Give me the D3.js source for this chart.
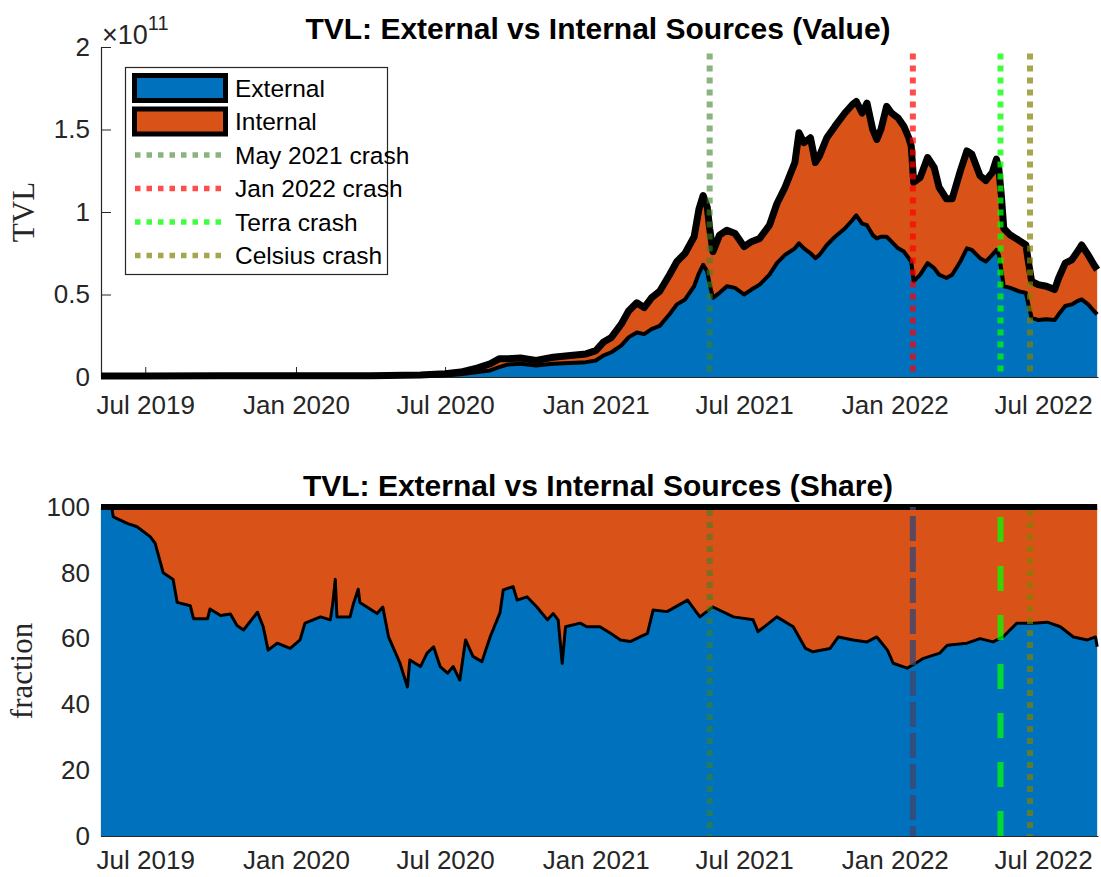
<!DOCTYPE html>
<html>
<head>
<meta charset="utf-8">
<script src="https://cdn.jsdelivr.net/npm/d3@7"></script>
<style>
  body { margin: 0; background: #fff; }
  svg { display: block; }
  text { font-family: "Liberation Sans", Arial, Helvetica, sans-serif; }
</style>
</head>
<body>
<div id="chart"></div>
<script>
// TVL in billions USD
var valueDates = ["2019-05-08","2019-07-01","2019-10-01","2020-01-01","2020-04-01","2020-06-01","2020-07-01","2020-07-20","2020-08-10","2020-08-25",
  "2020-09-05","2020-09-15","2020-10-01","2020-10-20","2020-11-10","2020-12-01","2020-12-20","2021-01-01","2021-01-10","2021-01-20",
  "2021-02-01","2021-02-10","2021-02-20","2021-03-01","2021-03-10","2021-03-20","2021-04-01","2021-04-10","2021-04-20","2021-05-01",
  "2021-05-07","2021-05-12","2021-05-17","2021-05-20","2021-05-24","2021-06-01","2021-06-10","2021-06-20","2021-07-01","2021-07-10",
  "2021-07-20","2021-08-01","2021-08-10","2021-08-20","2021-09-01","2021-09-06","2021-09-12","2021-09-20","2021-09-26","2021-10-01",
  "2021-10-10","2021-10-20","2021-11-01","2021-11-10","2021-11-15","2021-11-22","2021-11-28","2021-12-05","2021-12-10","2021-12-15",
  "2021-12-22","2021-12-28","2022-01-05","2022-01-12","2022-01-18","2022-01-21","2022-01-24","2022-02-01","2022-02-10","2022-02-18",
  "2022-02-24","2022-03-05","2022-03-12","2022-03-22","2022-03-30","2022-04-05","2022-04-15","2022-04-22","2022-04-30","2022-05-05",
  "2022-05-08","2022-05-11","2022-05-14","2022-05-22","2022-06-01","2022-06-10","2022-06-13","2022-06-17","2022-06-25","2022-07-05",
  "2022-07-15","2022-07-20","2022-07-28","2022-08-05","2022-08-12","2022-08-17","2022-08-25","2022-09-01","2022-09-05"];
var externalTVL = [0.6,0.57,0.5,0.53,0.45,0.7,1.1,1.6,3,4,
  6,7.5,8,7,8,8.5,9,10,13,15,
  19,24,27,26,29,31,38,44,47,55,
  63,68,64,56,48,51,55,54,50,53,
  56,62,69,74,78,81,78,75,72,74,
  80,85,90,95,98,93,92,86,84,85,
  85,82,78,76,72,70,58,62,69,66,
  62,60,62,70,78,77,72,70,74,77,
  74,65,55,54,52,51,44,36,34.5,35,
  34.5,38,43,44,46,47,44,40,38];
var internalTVL = [0,0.03,0.2,0.27,0.25,0.5,0.9,1.4,2.5,4,
  5,3.5,3.5,3,4,4.5,5,6,8,9,
  13,16,18,16,19,21,24,26,28,30,
  39,42,39,34,28,35,34,33,29,29,
  28,30,36,41,52,67,64,70,58,60,
  65,67,70,70,69,67,74,64,60,65,
  79,78,79,76,73,70,60,59,64,61,
  53,48,46,55,59,58,50,49,50,55,
  52,45,35,32,31,29,26,22,21.5,20,
  18.5,22,26,27,30,33,30,28,27];

// external share in percent
var shareDates = ["2019-05-08","2019-05-21","2019-05-23","2019-06-09","2019-06-21","2019-07-07","2019-07-13","2019-07-23","2019-08-04","2019-08-09",
  "2019-08-25","2019-08-29","2019-09-15","2019-09-18","2019-10-01","2019-10-13","2019-10-21","2019-10-29","2019-11-15","2019-11-22",
  "2019-11-28","2019-12-09","2019-12-25","2020-01-06","2020-01-12","2020-01-31","2020-02-12","2020-02-15","2020-02-18","2020-02-20",
  "2020-03-07","2020-03-11","2020-03-17","2020-03-19","2020-04-09","2020-04-16","2020-04-23","2020-05-07","2020-05-16","2020-05-19",
  "2020-06-01","2020-06-09","2020-06-17","2020-06-25","2020-07-04","2020-07-11","2020-07-19","2020-07-26","2020-08-04","2020-08-15",
  "2020-08-25","2020-09-06","2020-09-10","2020-09-22","2020-09-27","2020-10-09","2020-10-21","2020-11-03","2020-11-10","2020-11-16",
  "2020-11-21","2020-11-25","2020-12-13","2020-12-21","2021-01-06","2021-01-19","2021-01-31","2021-02-12","2021-03-05","2021-03-12",
  "2021-03-29","2021-04-23","2021-05-08","2021-05-24","2021-06-18","2021-07-12","2021-07-18","2021-08-10","2021-08-30","2021-09-14",
  "2021-09-23","2021-10-14","2021-10-24","2021-11-11","2021-11-28","2021-12-10","2021-12-23","2021-12-30","2022-01-16","2022-01-23",
  "2022-02-05","2022-02-25","2022-03-06","2022-03-30","2022-04-15","2022-05-01","2022-05-13","2022-05-30","2022-06-19","2022-07-06",
  "2022-07-22","2022-08-07","2022-08-24","2022-09-03","2022-09-05"];
var externalShare = [100,100,97,95,94,91,89,80,78,71,
  70,66,66,69,67,67.5,64,62.6,68,63.6,
  56.5,58.6,57,59.6,64.7,66.6,65.7,70.8,78,66.6,
  66.6,70.5,75,71,67.6,69.6,60.5,52.5,45.3,53.5,
  51.5,55.6,57.5,51.5,49.5,51.5,47.4,59.6,54.6,53,
  60.5,67.8,74.8,75.8,71.7,72.7,69.6,65.7,67.6,65.7,
  52.5,63.6,64.7,63.6,63.6,61.6,59.6,59.1,61.6,68.7,
  68.2,71.7,66.6,69.6,66.6,65.7,62.1,66.6,63.6,57,
  56,57,60.5,59.6,59,60.5,56.5,52.5,51,52,
  54,55.6,58,58.6,60,59,60.5,64.7,64.7,65,
  63.6,60.5,59.6,60.5,57.5];

var crashNames = ["May 2021 crash", "Jan 2022 crash", "Terra crash", "Celsius crash"];
var crashDates = ["2021-05-20", "2022-01-23", "2022-05-10", "2022-06-15"];
var seriesNames = ["External", "Internal"];
var dateTicks = ["2019-07-01","2020-01-01","2020-07-01","2021-01-01","2021-07-01","2022-01-01","2022-07-01"];
var valueTicks = [0, 50, 100, 150, 200];   // billions -> shown as x10^11
var shareTicks = [0, 20, 40, 60, 80, 100];

var blue = "#0072BD", orange = "#D95319", axisCol = "#262626";
// style of each crash line: [value panel, share panel]
var crashStyles = [
  [{c: "rgba(60,130,40,0.6)", dash: "6 6", off: 0}, {c: "rgba(60,130,40,0.6)", dash: "6 6", off: 9}],
  [{c: "rgba(255,0,0,0.7)", dash: "6 6", off: 0}, {c: "rgba(60,70,110,0.8)", dash: "25 6", off: 22}],
  [{c: "rgba(0,255,0,0.75)", dash: "6 6", off: 0}, {c: "rgba(0,255,0,0.75)", dash: "25 24", off: 39}],
  [{c: "rgba(128,128,0,0.7)", dash: "6 6", off: 0}, {c: "rgba(128,128,0,0.7)", dash: "6 6", off: 9}]
];

var parse = d3.timeParse("%Y-%m-%d");
var W = 1101, H = 877;

var svg = d3.select("#chart").append("svg")
    .attr("width", W)
    .attr("height", H);

var x = d3.scaleTime()
    .domain([parse("2019-05-08"), parse("2022-09-06")])
    .range([101, 1098]);

var yTop = d3.scaleLinear().domain([0, 200]).range([377, 47]);
var yBot = d3.scaleLinear().domain([0, 100]).range([836, 507]);

var valueData = valueDates.map(function(d, i) {
  return {date: parse(d), ext: externalTVL[i], tot: externalTVL[i] + internalTVL[i]};
});
var shareData = shareDates.map(function(d, i) {
  return {date: parse(d), s: externalShare[i]};
});

function styleAxis(g) {
  g.selectAll("path.domain").attr("stroke", axisCol).attr("stroke-width", 1.2);
  g.selectAll(".tick line").attr("stroke", axisCol).attr("stroke-width", 1);
  g.selectAll(".tick text").attr("fill", axisCol).style("font-size", "26px")
      .style("font-family", "'Liberation Sans', Arial, sans-serif");
}

// ---------- value panel ----------
var gTop = svg.append("g");

gTop.append("g")
    .attr("transform", "translate(0,377)")
    .call(d3.axisBottom(x).tickValues(dateTicks.map(parse))
      .tickFormat(d3.timeFormat("%b %Y")).tickSizeInner(-10).tickSizeOuter(0).tickPadding(19))
    .call(styleAxis);

gTop.append("g")
    .attr("transform", "translate(101,0)")
    .call(d3.axisLeft(yTop).tickValues(valueTicks)
      .tickFormat(function(d) { return d3.format("")(d / 100); }).tickSizeInner(-10).tickSizeOuter(0).tickPadding(11))
    .call(styleAxis);

gTop.append("path")
    .datum(valueData)
    .attr("fill", orange)
    .attr("d", d3.area().x(function(d) { return x(d.date); })
      .y0(function(d) { return yTop(d.ext); }).y1(function(d) { return yTop(d.tot); }));

gTop.append("path")
    .datum(valueData)
    .attr("fill", blue)
    .attr("d", d3.area().x(function(d) { return x(d.date); })
      .y0(yTop(0)).y1(function(d) { return yTop(d.ext); }));

gTop.append("path")
    .datum(valueData)
    .attr("fill", "none")
    .attr("stroke", "#000")
    .attr("stroke-width", 4)
    .attr("stroke-linejoin", "round")
    .attr("d", d3.line().x(function(d) { return x(d.date); }).y(function(d) { return yTop(d.ext); }));

gTop.append("path")
    .datum(valueData)
    .attr("fill", "none")
    .attr("stroke", "#000")
    .attr("stroke-width", 7)
    .attr("stroke-linejoin", "round")
    .attr("d", d3.line().x(function(d) { return x(d.date); }).y(function(d) { return yTop(d.tot); }));

gTop.selectAll("line.crash")
    .data(crashDates)
  .enter().append("line")
    .attr("class", "crash")
    .attr("x1", function(d) { return x(parse(d)); })
    .attr("x2", function(d) { return x(parse(d)); })
    .attr("y1", yTop(196))
    .attr("y2", yTop(0))
    .attr("stroke", function(d, i) { return crashStyles[i][0].c; })
    .attr("stroke-width", 6)
    .attr("stroke-dasharray", function(d, i) { return crashStyles[i][0].dash; })
    .attr("stroke-dashoffset", function(d, i) { return crashStyles[i][0].off; });

gTop.append("text")
    .attr("x", 598).attr("y", 39)
    .attr("text-anchor", "middle")
    .style("font-size", "30px").style("font-weight", "bold")
    .text("TVL: External vs Internal Sources (Value)");

var expo = gTop.append("text").attr("x", 102).attr("y", 44).attr("fill", axisCol);
expo.append("tspan").style("font-size", "27px").text("\u00d710");
expo.append("tspan").attr("dy", -14).style("font-size", "20px").text("11");

gTop.append("text")
    .attr("transform", "translate(34,212) rotate(-90)")
    .attr("text-anchor", "middle")
    .attr("fill", axisCol)
    .style("font-family", "'Liberation Serif', 'Times New Roman', serif")
    .style("font-size", "31px")
    .text("TVL");

// legend
var leg = gTop.append("g");
leg.append("rect")
    .attr("x", 125.5).attr("y", 67.5).attr("width", 262).attr("height", 207)
    .attr("fill", "#fff").attr("stroke", axisCol).attr("stroke-width", 1.2);

var rowY = d3.range(6).map(function(i) { return 88 + i * 33.5; });
[blue, orange].forEach(function(c, i) {
  leg.append("rect")
      .attr("x", 134.5).attr("y", rowY[i] - 12.5).attr("width", 91).attr("height", 25)
      .attr("fill", c).attr("stroke", "#000").attr("stroke-width", 5);
  leg.append("text").attr("x", 235).attr("y", rowY[i]).attr("dy", "0.35em")
      .style("font-size", "24.5px").text(seriesNames[i]);
});
crashNames.forEach(function(n, i) {
  var yy = rowY[i + 2];
  leg.append("line")
      .attr("x1", 135).attr("x2", 227).attr("y1", yy).attr("y2", yy)
      .attr("stroke", crashStyles[i][0].c).attr("stroke-width", 5.5)
      .attr("stroke-dasharray", "5.5 6");
  leg.append("text").attr("x", 235).attr("y", yy).attr("dy", "0.35em")
      .style("font-size", "24.5px").text(n);
});

// ---------- share panel ----------
var gBot = svg.append("g");

gBot.append("g")
    .attr("transform", "translate(0,836)")
    .call(d3.axisBottom(x).tickValues(dateTicks.map(parse))
      .tickFormat(d3.timeFormat("%b %Y")).tickSizeInner(-10).tickSizeOuter(0).tickPadding(15))
    .call(styleAxis);

gBot.append("g")
    .attr("transform", "translate(101,0)")
    .call(d3.axisLeft(yBot).tickValues(shareTicks).tickSizeInner(-10).tickSizeOuter(0).tickPadding(11))
    .call(styleAxis);

gBot.append("path")
    .datum(shareData)
    .attr("fill", orange)
    .attr("d", d3.area().x(function(d) { return x(d.date); })
      .y0(function(d) { return yBot(d.s); }).y1(yBot(100)));

gBot.append("path")
    .datum(shareData)
    .attr("fill", blue)
    .attr("d", d3.area().x(function(d) { return x(d.date); })
      .y0(yBot(0)).y1(function(d) { return yBot(d.s); }));

gBot.append("path")
    .datum(shareData)
    .attr("fill", "none")
    .attr("stroke", "#000")
    .attr("stroke-width", 3)
    .attr("stroke-linejoin", "round")
    .attr("d", d3.line().x(function(d) { return x(d.date); }).y(function(d) { return yBot(d.s); }));

gBot.append("path")
    .datum(shareData)
    .attr("fill", "none")
    .attr("stroke", "#000")
    .attr("stroke-width", 6)
    .attr("d", d3.line().x(function(d) { return x(d.date); }).y(yBot(100)));

gBot.selectAll("line.crash")
    .data(crashDates)
  .enter().append("line")
    .attr("class", "crash")
    .attr("x1", function(d) { return x(parse(d)); })
    .attr("x2", function(d) { return x(parse(d)); })
    .attr("y1", yBot(100))
    .attr("y2", yBot(0))
    .attr("stroke", function(d, i) { return crashStyles[i][1].c; })
    .attr("stroke-width", 6)
    .attr("stroke-dasharray", function(d, i) { return crashStyles[i][1].dash; })
    .attr("stroke-dashoffset", function(d, i) { return crashStyles[i][1].off; });

gBot.append("text")
    .attr("x", 598).attr("y", 496)
    .attr("text-anchor", "middle")
    .style("font-size", "30px").style("font-weight", "bold")
    .text("TVL: External vs Internal Sources (Share)");

gBot.append("text")
    .attr("transform", "translate(32,671) rotate(-90)")
    .attr("text-anchor", "middle")
    .attr("fill", axisCol)
    .style("font-family", "'Liberation Serif', 'Times New Roman', serif")
    .style("font-size", "31px")
    .text("fraction");
</script>
</body>
</html>
